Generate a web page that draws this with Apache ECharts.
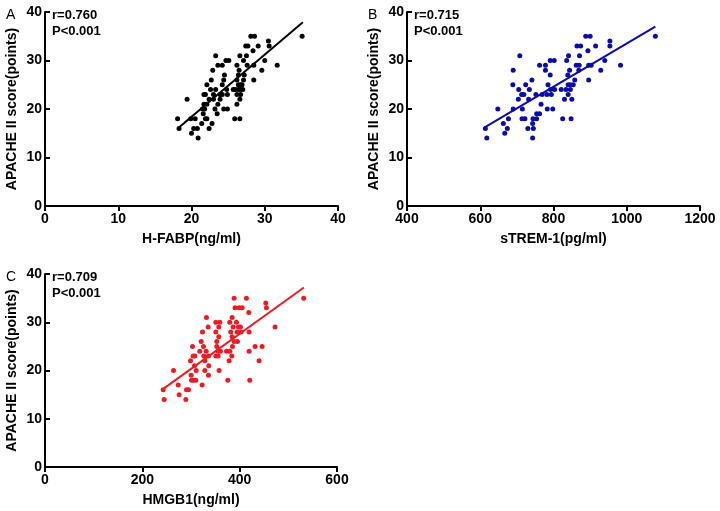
<!DOCTYPE html>
<html>
<head>
<meta charset="utf-8">
<script src="https://cdn.jsdelivr.net/npm/echarts@6/dist/echarts.min.js"></script>
<style>
  html, body { margin: 0; padding: 0; background: #fff; }
  #chart { width: 720px; height: 511px; }
</style>
</head>
<body>
<div id="chart"></div>
<script>
// --- data ---
// A: H-FABP vs APACHE II
const hfabp = [28.1, 28.6, 35.1, 30.5, 27.4, 27.7, 29.1, 30.6, 28.4, 23.3, 26.6, 27.5,
     24.7, 25.1, 27.1, 30.0, 23.6, 24.2, 26.2, 27.6, 28.5, 31.7, 22.9, 26.5, 29.6,
     24.5, 26.4, 27.2, 22.7, 24.4, 26.2, 27.1, 28.5, 22.1, 24.2, 26.4, 26.7, 26.9,
     22.6, 23.3, 24.8, 25.7, 26.0, 26.4, 26.7, 27.0, 21.7, 21.9, 23.0, 23.9, 24.2,
     24.9, 26.2, 26.7, 19.4, 22.4, 23.0, 23.9, 26.6, 21.7, 22.1, 23.6, 26.2,
     21.5, 21.8, 23.2, 24.4, 24.9, 21.6, 23.5, 18.1, 19.9, 20.5, 21.9, 22.1, 25.9,
     26.6, 21.4, 22.8, 18.3, 20.3, 20.8, 22.4, 20.0, 20.9];
const scoreA = [35, 35, 35, 34, 33, 33, 33, 33, 32, 31, 31, 31,
     30, 30, 30, 30, 29, 29, 29, 29, 29, 29, 28, 28, 28,
     27, 27, 27, 26, 26, 26, 26, 26, 25, 25, 25, 25, 25,
     24, 24, 24, 24, 24, 24, 24, 24, 23, 23, 23, 23, 23,
     23, 23, 23, 22, 22, 22, 22, 22, 21, 21, 21, 21,
     20, 20, 20, 20, 20, 19, 19, 18, 18, 18, 18, 18, 18,
     18, 17, 17, 16, 16, 16, 16, 15, 14];
const fitA = [[18.2, 16.1], [35.2, 37.9]];

// B: sTREM-1 vs APACHE II
const strem = [888, 900, 1078, 954, 864, 874, 915, 954, 894, 708, 841, 871,
     791, 802, 836, 940, 762, 778, 862, 870, 896, 903, 983, 690, 778, 844, 869, 929,
     791, 839, 741, 858, 896, 689, 724, 785, 840, 846, 854,
     705, 734, 792, 803, 821, 834, 846, 713, 719, 752, 769, 782, 794, 840,
     704, 732, 830, 850, 766, 648, 690, 715, 783, 798, 754, 762,
     677, 714, 722, 744, 754, 825, 848, 663, 743, 614, 674, 730, 745, 667, 618, 743];
const scoreB = [35, 35, 35, 34, 33, 33, 33, 33, 32, 31, 31, 31,
     30, 30, 30, 30, 29, 29, 29, 29, 29, 29, 29, 28, 28, 28, 28, 28,
     27, 27, 26, 26, 26, 25, 25, 25, 25, 25, 25,
     24, 24, 24, 24, 24, 24, 24, 23, 23, 23, 23, 23, 23, 23,
     22, 22, 22, 22, 21, 20, 20, 20, 20, 20, 19, 19,
     18, 18, 18, 18, 18, 18, 18, 17, 17, 16, 16, 16, 16, 15, 14, 14];
const fitB = [[612, 16.2], [1078, 37.0]];

// C: HMGB1 vs APACHE II
const hmgb1 = [388.6, 413.9, 531.6, 453.6, 390.6, 398.9, 405.0, 455.0, 418.7, 331.8, 384.5,
     351.0, 359.2, 379.7, 393.4, 335.2, 357.1, 386.6, 397.6, 401.6, 472.7,
     323.6, 351.0, 381.7, 394.7, 419.4, 402.9, 357.1, 384.5, 320.9, 353.0, 388.6, 395.4,
     303.1, 325.6, 353.0, 385.2, 431.7, 446.1, 318.1, 331.1, 355.8, 360.5, 372.9, 379.7, 419.4,
     304.4, 307.9, 326.3, 335.9, 351.0, 355.8, 383.8, 299.0, 328.4, 378.4, 439.9,
     307.2, 336.6, 264.1, 310.6, 328.4, 357.8, 300.3, 335.9,
     301.0, 305.1, 309.9, 375.6, 420.7, 273.7, 322.9, 242.9, 290.8, 294.9, 275.7, 244.9, 289.4];
const scoreC = [35, 35, 35, 34, 33, 33, 33, 33, 32, 31, 31,
     30, 30, 30, 30, 29, 29, 29, 29, 29, 29,
     28, 28, 28, 28, 28, 28, 27, 27, 26, 26, 26, 26,
     25, 25, 25, 25, 25, 25, 24, 24, 24, 24, 24, 24, 24,
     23, 23, 23, 23, 23, 23, 23, 22, 22, 22, 22,
     21, 21, 20, 20, 20, 20, 19, 19,
     18, 18, 18, 18, 18, 17, 17, 16, 16, 16, 15, 14, 14];
const fitC = [[243, 16.2], [532, 37.2]];

const yTicks = [0, 10, 20, 30, 40];
const panels = [
     { letter: 'A', r: 'r=0.760', p: 'P<0.001', name: 'H-FABP(ng/ml)', xs: hfabp, ys: scoreA, fit: fitA,
          min: 0, max: 40, interval: 10, color: '#000000' },
     { letter: 'B', r: 'r=0.715', p: 'P<0.001', name: 'sTREM-1(pg/ml)', xs: strem, ys: scoreB, fit: fitB,
          min: 400, max: 1200, interval: 200, color: '#0c0cab' },
     { letter: 'C', r: 'r=0.709', p: 'P<0.001', name: 'HMGB1(ng/ml)', xs: hmgb1, ys: scoreC, fit: fitC,
          min: 0, max: 600, interval: 200, color: '#ec1c24' },
];

// --- layout (px) ---
const boxes = [
     { left: 45, top: 12, width: 293, height: 194 },
     { left: 407, top: 12, width: 293, height: 194 },
     { left: 45, top: 274, width: 292, height: 193 },
];

const FONT = 'Arial, "Liberation Sans", sans-serif';
const axisLine = { lineStyle: { color: '#000', width: 2 } };
const tickStyle = { color: '#000', width: 2 };

const chart = echarts.init(document.getElementById('chart'), null, { renderer: 'canvas' });

const option = {
     backgroundColor: '#ffffff',
     animation: false,
     grid: boxes.map((b) => ({ ...b, containLabel: false })),
     xAxis: panels.map((p, i) => ({
          type: 'value',
          gridIndex: i,
          min: p.min,
          max: p.max,
          interval: p.interval,
          name: p.name,
          nameLocation: 'middle',
          nameGap: 26,
          nameTextStyle: { fontFamily: FONT, fontWeight: 'bold', fontSize: 14, color: '#000' },
          axisLine: axisLine,
          axisTick: { inside: false, length: 5, lineStyle: tickStyle },
          // 천 단위 콤마 없이 표시
          axisLabel: { margin: 6, fontFamily: FONT, fontWeight: 'bold', fontSize: 14, color: '#000',
               formatter: (v) => String(v) },
          splitLine: { show: false },
     })),
     yAxis: panels.map((p, i) => ({
          type: 'value',
          gridIndex: i,
          min: yTicks[0],
          max: yTicks[yTicks.length - 1],
          interval: 10,
          name: 'APACHE II score(points)',
          nameLocation: 'middle',
          nameGap: 26,
          nameTextStyle: { fontFamily: FONT, fontWeight: 'bold', fontSize: 14, color: '#000' },
          axisLine: axisLine,
          // y축 눈금은 안쪽으로
          axisTick: { inside: true, length: 5, lineStyle: tickStyle },
          axisLabel: { margin: 3, fontFamily: FONT, fontWeight: 'bold', fontSize: 14, color: '#000' },
          splitLine: { show: false },
     })),
     series: panels.flatMap((p, i) => [
          {
               type: 'scatter',
               xAxisIndex: i,
               yAxisIndex: i,
               data: p.xs.map((x, k) => [x, p.ys[k]]),
               symbolSize: 5,
               itemStyle: { color: p.color, opacity: 1 },
               z: 3,
          },
          {
               type: 'line',
               xAxisIndex: i,
               yAxisIndex: i,
               data: p.fit,
               showSymbol: false,
               lineStyle: { color: p.color, width: 2 },
               z: 2,
          },
     ]),
     graphic: panels.flatMap((p, i) => [
          {
               type: 'text',
               left: boxes[i].left - 39,
               top: boxes[i].top - 4,
               style: { text: p.letter, font: '14px ' + FONT, fill: '#000' },
          },
          {
               type: 'text',
               left: boxes[i].left + 7,
               top: boxes[i].top - 5,
               style: { text: p.r + '\n' + p.p, font: 'bold 13px ' + FONT, fill: '#000', lineHeight: 16 },
          },
     ]),
};

chart.setOption(option);
</script>
</body>
</html>
